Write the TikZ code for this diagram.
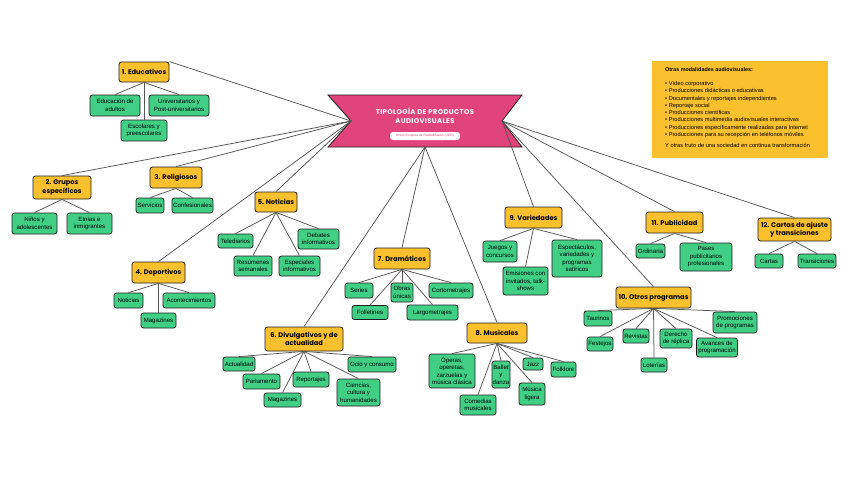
\documentclass[tikz,border=0pt]{standalone}
\usepackage{fontspec}
\setmainfont{Liberation Sans}
\newfontfamily\popfont{Poppins}
\newfontfamily\popspaced{Poppins}[LetterSpace=5]
\definecolor{catyellow}{RGB}{251,192,45}
\definecolor{leafgreen}{RGB}{64,207,132}
\definecolor{bannerpink}{RGB}{225,68,122}
\definecolor{linkgray}{RGB}{85,85,85}
\definecolor{edgedark}{RGB}{30,30,30}
\begin{document}
\begin{tikzpicture}[x=1pt,y=-1pt,
  catbox/.style={draw=edgedark,line width=0.8pt,rounded corners=2.5pt,fill=catyellow,align=center,inner sep=0pt,
    font=\popfont\bfseries\fontsize{6.7}{8.6}\selectfont},
  leafbox/.style={draw=edgedark,line width=0.8pt,rounded corners=2.5pt,fill=leafgreen,align=center,inner sep=0pt,
    font=\fontsize{6.1}{7.5}\selectfont},
  link/.style={draw=linkgray,line width=0.75pt},
  infotext/.style={anchor=north west,inner sep=0pt,align=left,font=\fontsize{5.7}{7.3}\selectfont}
]
\useasboundingbox (0,0) rectangle (848,477);
\fill[white] (0,0) rectangle (848,477);

% central banner
\coordinate (nL) at (351,121);
\coordinate (nR) at (502,121);
\coordinate (nB) at (425,147);
\draw[fill=bannerpink,draw=edgedark,line width=0.8pt] (328,95) -- (522,95) -- (nR) -- (522,147) -- (328,147) -- (nL) -- cycle;
\node[text=white,align=center,inner sep=0pt,font=\popspaced\bfseries\fontsize{6.9}{9}\selectfont] (title) at (425,115.5) {TIPOLOGÍA DE PRODUCTOS\\AUDIOVISUALES};
\node[fill=white,rounded corners=3pt,text=bannerpink,minimum width=70pt,minimum height=8pt,inner sep=0pt,font=\fontsize{3.3}{4}\selectfont] (sub) at (425,136) {Unión Europea de Radiodifusión (UER)};

% info box
\fill[catyellow] (652,61) rectangle (828,158);
\node[infotext,font=\bfseries\fontsize{5.4}{7.3}\selectfont] (infot) at (665,67) {Otras modalidades audiovisuales:};
\node[infotext] (infol) at (665,81) {• Vídeo corporativo\\
• Producciones didácticas o educativas\\
• Documentales y reportajes independientes\\
• Reportaje social\\
• Producciones científicas\\
• Producciones multimedia audiovisuales interactivas\\
• Producciones específicamente realizadas para Internet\\
• Producciones para su recepción en teléfonos móviles};
\node[infotext] (infof) at (665,143) {Y otras fruto de una sociedad en continua transformación};

% categories
\node[catbox,minimum width=50pt,minimum height=20pt] (edu) at (144,72) {1. Educativos};
\node[catbox,minimum width=58pt,minimum height=23pt] (grp) at (62,187.5) {2. Grupos\\específicos};
\node[catbox,minimum width=52pt,minimum height=21pt] (rel) at (176,177.5) {3. Religiosos};
\node[catbox,minimum width=53pt,minimum height=21pt] (dep) at (158.5,272.5) {4. Deportivos};
\node[catbox,minimum width=42pt,minimum height=20pt] (nota) at (276,202) {5. Noticias};
\node[catbox,minimum width=78pt,minimum height=24pt] (div) at (304,339) {6. Divulgativos y de\\actualidad};
\node[catbox,minimum width=56pt,minimum height=21pt] (dra) at (402,258.5) {7. Dramáticos};
\node[catbox,minimum width=60pt,minimum height=20pt] (mus) at (497,333) {8. Musicales};
\node[catbox,minimum width=57pt,minimum height=21pt] (var) at (533.5,217.5) {9. Variedades};
\node[catbox,minimum width=75pt,minimum height=21pt] (otr) at (653.5,297.5) {10. Otros programas};
\node[catbox,minimum width=57pt,minimum height=21pt] (pub) at (674.5,222.5) {11. Publicidad};
\node[catbox,minimum width=73pt,minimum height=23pt] (car) at (794.5,229.5) {12. Cartas de ajuste\\y transiciones};

% leaves
\node[leafbox,minimum width=50pt,minimum height=21pt] (ea) at (115,105.5) {Educación de\\adultos};
\node[leafbox,minimum width=60pt,minimum height=21pt] (eu) at (179,105.5) {Universitarios y\\Post-universitarios};
\node[leafbox,minimum width=46pt,minimum height=21pt] (ee) at (144,130.5) {Escolares y\\preescolares};

\node[leafbox,minimum width=45pt,minimum height=21pt] (gn) at (34.5,223.5) {Niños y\\adolescentes};
\node[leafbox,minimum width=45pt,minimum height=21pt] (ge) at (89.5,223.5) {Etnias e\\inmigrantes};

\node[leafbox,minimum width=28pt,minimum height=15pt] (rs) at (150,205.5) {Servicios};
\node[leafbox,minimum width=41pt,minimum height=15pt] (rc) at (192.5,205.5) {Confesionales};

\node[leafbox,minimum width=29pt,minimum height=15pt] (dn) at (128.5,300.5) {Noticias};
\node[leafbox,minimum width=52pt,minimum height=15pt] (da) at (189,300.5) {Acontecimientos};
\node[leafbox,minimum width=35pt,minimum height=15pt] (dm) at (158.5,320.5) {Magazines};

\node[leafbox,minimum width=35pt,minimum height=14pt] (nt) at (235.5,241) {Telediarios};
\node[leafbox,minimum width=38pt,minimum height=20pt] (nrs) at (253,266) {Resúmenes\\semanales};
\node[leafbox,minimum width=41pt,minimum height=20pt] (nes) at (299.5,266) {Especiales\\informativos};
\node[leafbox,minimum width=41pt,minimum height=20pt] (nde) at (318.5,239) {Debates\\informativos};

\node[leafbox,minimum width=32pt,minimum height=14pt] (va) at (239,364) {Actualidad};
\node[leafbox,minimum width=37pt,minimum height=15pt] (vp) at (261.5,381.5) {Parlamento};
\node[leafbox,minimum width=37pt,minimum height=14pt] (vm) at (282.5,400) {Magazines};
\node[leafbox,minimum width=36pt,minimum height=15pt] (vr) at (311,379.5) {Reportajes};
\node[leafbox,minimum width=48pt,minimum height=15pt] (vo) at (372,364.5) {Ocio y consumo};
\node[leafbox,minimum width=43pt,minimum height=27pt] (vc) at (358.5,392.5) {Ciencias,\\cultura y\\humanidades};

\node[leafbox,minimum width=28pt,minimum height=15pt] (ds) at (359,290.5) {Series};
\node[leafbox,minimum width=22pt,minimum height=19pt] (dou) at (402,292.5) {Obras\\únicas};
\node[leafbox,minimum width=44pt,minimum height=15pt] (dc) at (451,290.5) {Cortometrajes};
\node[leafbox,minimum width=36pt,minimum height=14pt] (df) at (370,312.5) {Folletines};
\node[leafbox,minimum width=51pt,minimum height=15pt] (dlg) at (432.5,312.5) {Largometrajes};

\node[leafbox,minimum width=46pt,minimum height=34pt] (mo) at (452,371) {Óperas,\\operetas,\\zarzuelas y\\música clásica};
\node[leafbox,minimum width=36pt,minimum height=20pt] (mc) at (478,405) {Comedias\\musicales};
\node[leafbox,minimum width=18pt,minimum height=27pt] (mb) at (501,374.5) {Ballet\\y\\danza};
\node[leafbox,minimum width=26pt,minimum height=22pt] (ml) at (532,394) {Música\\ligera};
\node[leafbox,minimum width=20pt,minimum height=12pt] (mj) at (533,364) {Jazz};
\node[leafbox,minimum width=25pt,minimum height=15pt] (mf) at (563.5,369.5) {Folklore};

\node[leafbox,minimum width=34pt,minimum height=21pt] (aj) at (500,251.5) {Juegos y\\concursos};
\node[leafbox,minimum width=45pt,minimum height=28pt] (ae) at (525.5,281) {Emisiones con\\invitados, talk-\\shows};
\node[leafbox,minimum width=50pt,minimum height=37pt] (asp) at (577,258.5) {Espectáculos,\\variedades y\\programas\\satíricos};

\node[leafbox,minimum width=28pt,minimum height=15pt] (ot) at (598,318.5) {Taurinos};
\node[leafbox,minimum width=26pt,minimum height=14pt] (of) at (600,344) {Festejos};
\node[leafbox,minimum width=26pt,minimum height=14pt] (orv) at (636,336) {Revistas};
\node[leafbox,minimum width=26pt,minimum height=14pt] (ol) at (654,365) {Loterías};
\node[leafbox,minimum width=32pt,minimum height=19pt] (od) at (676,338.5) {Derecho\\de réplica};
\node[leafbox,minimum width=41pt,minimum height=19pt] (oa) at (717,347.5) {Avances de\\programación};
\node[leafbox,minimum width=44pt,minimum height=21pt] (op) at (735,322.5) {Promociones\\de programas};

\node[leafbox,minimum width=29pt,minimum height=14pt] (po) at (650.5,251) {Ordinaria};
\node[leafbox,minimum width=52pt,minimum height=28pt] (pp) at (706,257) {Pases\\publicitarios\\profesionales};

\node[leafbox,minimum width=28pt,minimum height=14pt] (cc) at (769,261) {Cartas};
\node[leafbox,minimum width=38pt,minimum height=14pt] (ct) at (817,261) {Transiciones};

% central links
\draw[link] (nL) -- (edu.north east);
\draw[link] (nL) -- (grp.north);
\draw[link] (nL) -- (rel.north);
\draw[link] (nL) -- (dep.north);
\draw[link] (nL) -- (nota.north);
\draw[link] (nB) -- (div.north);
\draw[link] (nB) -- (dra.north);
\draw[link] (nB) -- (mus.north);
\draw[link] (nR) -- (var.north);
\draw[link] (nR) -- (otr.north);
\draw[link] (nR) -- (pub.north);
\draw[link] (nR) -- (car.north);

% branch links
\foreach \p/\c in {edu/ea,edu/eu,edu/ee,grp/gn,grp/ge,rel/rs,rel/rc,dep/dn,dep/da,dep/dm,
  nota/nt,nota/nrs,nota/nes,nota/nde,div/va,div/vp,div/vm,div/vr,div/vo,div/vc,
  dra/ds,dra/dou,dra/dc,dra/df,dra/dlg,mus/mo,mus/mc,mus/mb,mus/ml,mus/mj,mus/mf,
  var/aj,var/ae,var/asp,otr/ot,otr/of,otr/orv,otr/ol,otr/od,otr/oa,otr/op,
  pub/po,pub/pp,car/cc,car/ct}
  \draw[link] (\p.south) -- (\c.north);
\end{tikzpicture}
\end{document}
